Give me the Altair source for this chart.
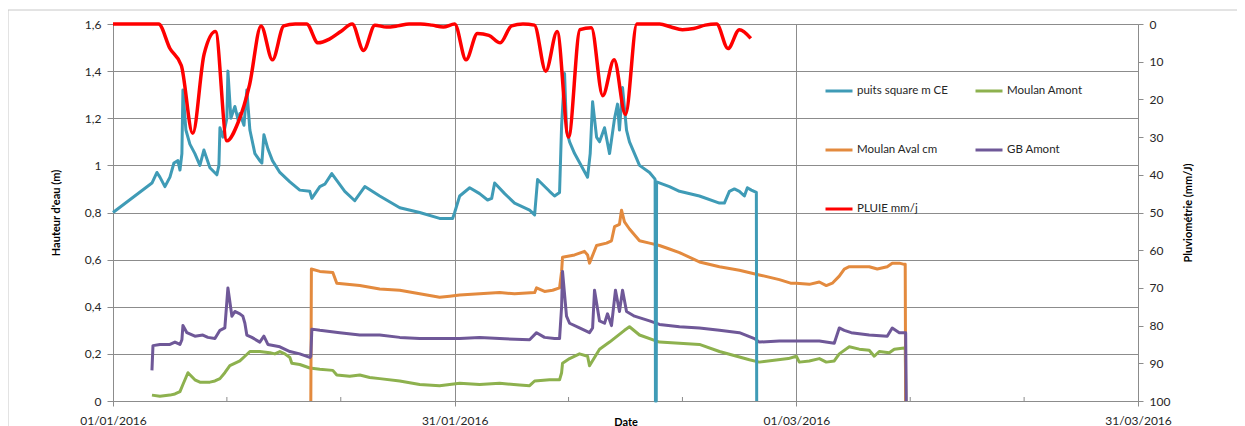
import altair as alt
import pandas as pd

# ---------------- data (days since 01/01/2016, values) ----------------
puits_days = [0, 3.42, 3.86, 4.12, 4.56, 5.0, 5.35, 5.70, 5.88, 6.05, 6.14, 6.40, 6.75, 7.19, 7.63, 7.98,
              8.51, 9.12, 9.30, 9.39, 9.65, 10.0, 10.09, 10.35, 10.70, 11.0, 11.14, 11.50, 11.75, 12.02,
              12.46, 12.89, 13.07, 13.25, 13.60, 14.0, 14.65, 15.53, 16.40, 17.28, 17.46, 18.16, 18.60,
              19.21, 20.35, 21.23, 22.11, 23.42, 25.18, 26.93, 28.68, 29.82, 30.0, 30.44, 31.32, 32.19,
              32.89, 33.25, 33.51, 34.39, 35.26, 36.58, 37.02, 37.28, 38.33, 38.77, 39.21, 39.39, 39.65,
              39.82, 40.09, 40.53, 41.67, 41.90, 42.11, 42.46, 42.72, 43.16, 43.60, 44.04, 44.30, 44.47,
              44.74, 45.09, 45.35, 46.23, 47.11, 47.54, 47.60, 47.63, 47.70, 47.73, 48.86, 49.74, 51.49,
              53.25, 53.68, 54.12, 54.56, 55.0, 55.44, 55.70, 56.05, 56.49, 56.52]
puits_vals = [0.80, 0.925, 0.97, 0.95, 0.91, 0.95, 1.01, 1.02, 0.98, 1.05, 1.32, 1.15, 1.09, 1.05, 1.00, 1.065,
              0.99, 0.96, 1.0, 1.16, 1.12, 1.2, 1.40, 1.20, 1.25, 1.19, 1.22, 1.17, 1.32, 1.15,
              1.05, 1.02, 1.01, 1.13, 1.07, 1.02, 0.97, 0.93, 0.895, 0.89, 0.86, 0.91, 0.92,
              0.965, 0.89, 0.85, 0.91, 0.87, 0.82, 0.80, 0.775, 0.775, 0.80, 0.87, 0.905, 0.88,
              0.853, 0.86, 0.925, 0.88, 0.84, 0.81, 0.79, 0.94, 0.89, 0.87, 0.885, 1.17, 1.39,
              1.15, 1.10, 1.05, 0.95, 1.05, 1.27, 1.12, 1.10, 1.16, 1.05, 1.20, 1.26, 1.15,
              1.33, 1.15, 1.10, 1.00, 0.97, 0.945, 0.94, 0.0, 0.0, 0.93, 0.91, 0.89, 0.87,
              0.84, 0.84, 0.89, 0.90, 0.89, 0.87, 0.905, 0.895, 0.885, 0.0]

aval_days = [17.37, 17.42, 18.16, 19.30, 19.65, 21.67, 23.42, 25.18, 26.93, 28.68, 29.56, 30.44, 32.19,
             33.95, 35.26, 37.02, 37.19, 37.89, 38.60, 39.21, 39.39, 39.47, 40.53, 41.40, 41.67, 41.84,
             42.46, 43.33, 43.77, 44.04, 44.47, 44.65, 44.91, 45.35, 46.23, 47.11, 47.98, 48.86, 49.74,
             51.49, 53.25, 55.0, 56.75, 58.51, 59.5, 60.0, 61.14, 62.02, 62.63, 63.16, 63.77, 64.21,
             64.65, 66.40, 67.11, 67.98, 68.42, 69.04, 69.47, 69.56, 69.60]
aval_vals = [0.0, 0.56, 0.55, 0.545, 0.50, 0.49, 0.475, 0.47, 0.455, 0.44, 0.445, 0.45, 0.455,
             0.46, 0.455, 0.46, 0.48, 0.465, 0.47, 0.48, 0.55, 0.61, 0.62, 0.635, 0.62, 0.585,
             0.66, 0.67, 0.68, 0.74, 0.75, 0.81, 0.76, 0.73, 0.68, 0.67, 0.66, 0.645, 0.63,
             0.59, 0.57, 0.555, 0.535, 0.515, 0.50, 0.50, 0.495, 0.505, 0.49, 0.50, 0.53, 0.56,
             0.57, 0.57, 0.56, 0.57, 0.585, 0.585, 0.58, 0.58, 0.0]

gb_days = [3.42, 3.51, 4.12, 5.0, 5.44, 5.88, 6.05, 6.14, 6.49, 7.19, 7.89, 8.33, 8.95, 9.39, 9.82, 10.09,
           10.44, 10.70, 11.14, 11.40, 11.58, 11.75, 12.19, 12.89, 13.25, 13.60, 14.65, 15.53, 16.40,
           17.28, 17.37, 17.46, 18.16, 19.91, 21.67, 23.42, 25.18, 26.93, 28.68, 30.44, 32.19, 33.95,
           36.58, 37.19, 37.89, 38.77, 39.21, 39.39, 39.47, 39.82, 40.09, 40.96, 41.84, 42.11, 42.28,
           42.72, 43.16, 43.42, 43.77, 44.12, 44.47, 44.74, 45.09, 45.79, 47.11, 47.98, 49.74, 51.49,
           53.25, 55.0, 56.32, 56.75, 58.51, 60.26, 62.02, 63.33, 63.77, 64.21, 64.82, 66.40, 67.98,
           68.42, 69.04, 69.47, 69.60, 69.65]
gb_vals = [0.13, 0.235, 0.24, 0.24, 0.25, 0.24, 0.26, 0.32, 0.29, 0.275, 0.28, 0.27, 0.265, 0.30, 0.31, 0.48,
           0.36, 0.38, 0.37, 0.36, 0.33, 0.28, 0.27, 0.25, 0.275, 0.24, 0.23, 0.21, 0.20,
           0.185, 0.19, 0.305, 0.30, 0.29, 0.28, 0.28, 0.27, 0.265, 0.265, 0.265, 0.27, 0.265,
           0.26, 0.29, 0.27, 0.265, 0.265, 0.40, 0.55, 0.36, 0.33, 0.31, 0.29, 0.31, 0.47,
           0.34, 0.33, 0.37, 0.32, 0.47, 0.38, 0.47, 0.38, 0.36, 0.34, 0.325, 0.315, 0.31,
           0.30, 0.29, 0.265, 0.25, 0.255, 0.255, 0.255, 0.245, 0.31, 0.30, 0.29, 0.28, 0.275,
           0.31, 0.29, 0.29, 0.29, 0.0]

amont_days = [3.42, 4.12, 5.0, 5.44, 5.88, 6.14, 6.58, 7.19, 7.63, 8.51, 8.95, 9.39, 9.82, 10.26, 11.14,
              11.58, 12.02, 12.89, 13.77, 14.21, 14.65, 15.09, 15.53, 15.70, 16.40, 17.28, 18.16, 19.30,
              19.65, 20.79, 21.67, 22.54, 23.42, 25.18, 26.93, 28.68, 30.44, 32.19, 33.95, 35.70, 36.58,
              37.02, 38.33, 39.21, 39.39, 39.47, 40.09, 40.96, 41.67, 41.84, 42.72, 43.60, 44.91, 45.35,
              46.23, 47.98, 51.49, 53.25, 55.88, 56.75, 59.3, 60.0, 60.26, 61.14, 62.02, 62.63, 63.33,
              63.77, 64.65, 65.53, 66.40, 66.84, 67.28, 68.16, 68.60, 69.47, 69.56, 69.62]
amont_vals = [0.025, 0.02, 0.025, 0.03, 0.04, 0.07, 0.12, 0.09, 0.08, 0.08, 0.085, 0.095, 0.12, 0.15, 0.17,
              0.19, 0.21, 0.21, 0.205, 0.20, 0.21, 0.20, 0.185, 0.16, 0.155, 0.14, 0.135, 0.13,
              0.11, 0.105, 0.11, 0.10, 0.095, 0.085, 0.07, 0.065, 0.075, 0.07, 0.075, 0.068, 0.065,
              0.085, 0.09, 0.09, 0.12, 0.16, 0.18, 0.20, 0.19, 0.15, 0.22, 0.25, 0.30, 0.315,
              0.28, 0.25, 0.24, 0.21, 0.175, 0.165, 0.18, 0.19, 0.165, 0.17, 0.18, 0.165, 0.17,
              0.20, 0.23, 0.22, 0.215, 0.19, 0.21, 0.205, 0.22, 0.225, 0.225, 0.0]

# daily rainfall (mm/j), one value per day from 01/01/2016
pluie_vals = [0, 0, 0, 0, 0, 6.5, 11, 29, 8, 2, 31, 26, 16, 0.5, 9.5, 0.5, 0, 0, 5, 4, 2, 0, 7, 0.3,
              0.8, 0.5, 0, 0, 0.3, 0.8, 0, 9.5, 2.5, 3, 5, 0.5, 0, 0.3, 12.5, 2, 30, 1.5, 1, 19, 9.5,
              24, 0, 0, 0, 0.8, 1.5, 1.2, 0.3, 0, 6.5, 1.5, 3.8]
pluie_days = list(range(len(pluie_vals)))

series_names = ["puits square m CE", "Moulan Amont", "Moulan Aval cm", "GB Amont", "PLUIE mm/j"]
series_colors = ["#3F9BB6", "#8DB14E", "#E38A3E", "#6F5898", "#FF0000"]

label_dates = ["2016-01-01", "2016-01-31", "2016-03-01", "2016-03-31"]
minor_days = [10, 20, 40, 50, 70, 80]

# ---------------- build tables ----------------
start = pd.Timestamp("2016-01-01")


def frame(days, vals, name):
    return pd.DataFrame({
        "date": start + pd.to_timedelta(days, unit="D"),
        "value": vals,
        "serie": name,
    })


df_puits = frame(puits_days, puits_vals, series_names[0])
df_amont = frame(amont_days, amont_vals, series_names[1])
df_aval = frame(aval_days, aval_vals, series_names[2])
df_gb = frame(gb_days, gb_vals, series_names[3])
df_pluie = frame(pluie_days, pluie_vals, series_names[4])
df_minor = pd.DataFrame({"date": start + pd.to_timedelta(minor_days, unit="D")})

W, H = 1025, 377
GRID = "#8c8c8c"
FONT = "Lato"

x_enc = alt.X(
    "date:T",
    scale=alt.Scale(domain=[alt.DateTime(year=2016, month=1, date=1),
                            alt.DateTime(year=2016, month=3, date=31)]),
    axis=alt.Axis(
        values=[alt.DateTime(year=int(d[:4]), month=int(d[5:7]), date=int(d[8:])) for d in label_dates],
        format="%d/%m/%Y", title="Date", grid=True, labelFlush=False, labelOverlap=False,
        tickSize=5, labelPadding=9, titlePadding=-10,
    ),
)

color_enc = alt.Color(
    "serie:N",
    scale=alt.Scale(domain=series_names, range=series_colors),
    legend=alt.Legend(title=None),
)

y_left = alt.Y(
    "value:Q",
    scale=alt.Scale(domain=[0, 1.6], nice=False, zero=False),
    axis=alt.Axis(
        values=[0, 0.2, 0.4, 0.6, 0.8, 1.0, 1.2, 1.4, 1.6],
        labelExpr="replace(format(datum.value, '~g'), '.', ',')",
        title="Hauteur d'eau (m)", orient="left", grid=True,
        tickSize=6, labelPadding=6, titlePadding=23,
    ),
)

y_right = alt.Y(
    "value:Q",
    scale=alt.Scale(domain=[0, 100], reverse=True, nice=False, zero=False),
    axis=alt.Axis(
        values=list(range(0, 101, 10)), title="Pluviométrie  (mm/J)", orient="right",
        grid=False, tickSize=5, labelPadding=6, titlePadding=24, titleAngle=270,
    ),
)


def water_line(df):
    return alt.Chart(df).mark_line(strokeWidth=3, strokeJoin="round").encode(
        x=x_enc, y=y_left, color=color_enc
    )


water = alt.layer(
    water_line(df_amont),
    water_line(df_aval),
    water_line(df_gb),
    water_line(df_puits),
)

pluie = alt.Chart(df_pluie).mark_line(strokeWidth=3.5, interpolate="monotone").encode(
    x=x_enc, y=y_right, color=color_enc
)

minor = alt.Chart(df_minor).mark_rule(color=GRID, strokeWidth=1).encode(
    x=alt.X("date:T"), y=alt.value(H - 4), y2=alt.value(H)
)

border_src = pd.DataFrame({"k": [0]})
border_left = alt.Chart(border_src).mark_rule(color="#c8c8c8", strokeWidth=1).encode(
    x=alt.value(-105), y=alt.value(-14), y2=alt.value(H + 40)
)
border_top = alt.Chart(border_src).mark_rule(color="#c8c8c8", strokeWidth=1).encode(
    x=alt.value(-105), x2=alt.value(W + 120), y=alt.value(-14)
)

chart = alt.layer(
    border_left, border_top, minor, water, pluie
).resolve_scale(
    y="independent"
).properties(
    width=W, height=H,
    padding={"left": 105, "top": 16, "right": 99, "bottom": 26},
    autosize=alt.AutoSizeParams(type="none"),
).configure(
    font=FONT,
).configure_view(
    strokeWidth=0,
).configure_axis(
    labelFont=FONT, titleFont=FONT, labelFontSize=12, titleFontSize=11,
    labelColor="#262626", titleColor="#000000", titleFontWeight="bold",
    domainColor=GRID, tickColor=GRID, gridColor=GRID, gridWidth=1, domainWidth=1,
).configure_legend(
    orient="none", legendX=711, legendY=52, columns=2, direction="horizontal",
    symbolType="stroke", symbolSize=729, symbolStrokeWidth=3,
    labelFont=FONT, labelFontSize=11.5, labelColor="#262626", labelOffset=3,
    rowPadding=38, columnPadding=21, padding=0,
)

chart.save("out.html", embed_options={"renderer": "svg", "actions": False})
